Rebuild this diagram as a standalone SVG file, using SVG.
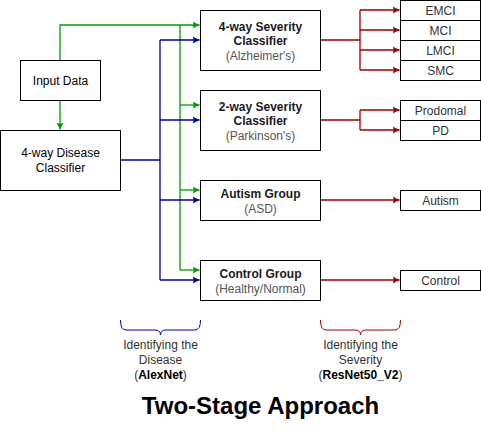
<svg xmlns="http://www.w3.org/2000/svg" width="481" height="436" viewBox="0 0 481 436">
<style>
.box{fill:#fff;stroke:#000;stroke-width:1}
text{font-family:"Liberation Sans",Arial,sans-serif;font-size:12px;text-anchor:middle}
.t{fill:#000}
.b{font-weight:bold;fill:#1a1a1a}
.s{fill:#555}
.leaf{fill:#333}
.g{stroke:#009900;fill:none;stroke-width:1.3}
.bl{stroke:#000099;fill:none;stroke-width:1.3}
.r{stroke:#990000;fill:none;stroke-width:1.3}
.lab{fill:#333}
</style>
<defs>
<marker id="ag" markerWidth="8" markerHeight="8" refX="7" refY="4" orient="auto" markerUnits="userSpaceOnUse"><path d="M0,0.5 L7,4 L0,7.5 L1.5,4 Z" fill="#009900"/></marker>
<marker id="ab" markerWidth="8" markerHeight="8" refX="7" refY="4" orient="auto" markerUnits="userSpaceOnUse"><path d="M0,0.5 L7,4 L0,7.5 L1.5,4 Z" fill="#000099"/></marker>
<marker id="ar" markerWidth="8" markerHeight="8" refX="7" refY="4" orient="auto" markerUnits="userSpaceOnUse"><path d="M0,0.5 L7,4 L0,7.5 L1.5,4 Z" fill="#990000"/></marker>
</defs>
<g id="connectors">
<path class="g" d="M60,60 V25 H199.5" marker-end="url(#ag)"/>
<path class="g" d="M60,100 V129.5" marker-end="url(#ag)"/>
<path class="g" d="M180,25 V270"/>
<path class="g" d="M180,105 H199.5" marker-end="url(#ag)"/>
<path class="g" d="M180,190 H199.5" marker-end="url(#ag)"/>
<path class="g" d="M180,270 H199.5" marker-end="url(#ag)"/>
<path class="bl" d="M120,160 H160"/>
<path class="bl" d="M160,40 V280"/>
<path class="bl" d="M160,40 H199.5" marker-end="url(#ab)"/>
<path class="bl" d="M160,120 H199.5" marker-end="url(#ab)"/>
<path class="bl" d="M160,200 H199.5" marker-end="url(#ab)"/>
<path class="bl" d="M160,280 H199.5" marker-end="url(#ab)"/>
<path class="r" d="M320,40 H360 M360,10 V70"/>
<path class="r" d="M360,10 H399.5" marker-end="url(#ar)"/>
<path class="r" d="M360,30 H399.5" marker-end="url(#ar)"/>
<path class="r" d="M360,50 H399.5" marker-end="url(#ar)"/>
<path class="r" d="M360,70 H399.5" marker-end="url(#ar)"/>
<path class="r" d="M320,120 H360 M360,110 V130"/>
<path class="r" d="M360,110 H399.5" marker-end="url(#ar)"/>
<path class="r" d="M360,130 H399.5" marker-end="url(#ar)"/>
<path class="r" d="M320,200 H399.5" marker-end="url(#ar)"/>
<path class="r" d="M320,280 H399.5" marker-end="url(#ar)"/>
</g>
<g id="input-data"><rect class="box" x="20.5" y="60.5" width="80" height="40"/><text class="t" x="60.5" y="84.5">Input Data</text></g>
<g id="disease-classifier"><rect class="box" x="0.5" y="130.5" width="120" height="60"/><text class="t" x="60.5" y="157">4-way Disease</text><text class="t" x="60.5" y="171.5">Classifier</text></g>
<g id="severity-alz"><rect class="box" x="200.5" y="10.5" width="120" height="60"/><text class="b" x="260.5" y="30.5">4-way Severity</text><text class="b" x="260.5" y="44.5">Classifier</text><text class="s" x="260.5" y="59.5">(Alzheimer's)</text></g>
<g id="severity-pk"><rect class="box" x="200.5" y="90.5" width="120" height="60"/><text class="b" x="260.5" y="110.5">2-way Severity</text><text class="b" x="260.5" y="124.5">Classifier</text><text class="s" x="260.5" y="139.5">(Parkinson's)</text></g>
<g id="autism-group"><rect class="box" x="200.5" y="180.5" width="120" height="40"/><text class="b" x="260.5" y="197.5">Autism Group</text><text class="s" x="260.5" y="212.5">(ASD)</text></g>
<g id="control-group"><rect class="box" x="200.5" y="260.5" width="120" height="40"/><text class="b" x="260.5" y="277.5">Control Group</text><text class="s" x="260.5" y="292.5">(Healthy/Normal)</text></g>
<g id="emci"><rect class="box" x="400.5" y="0.5" width="80" height="20"/><text class="leaf" x="440.5" y="14.5">EMCI</text></g>
<g id="mci"><rect class="box" x="400.5" y="20.5" width="80" height="20"/><text class="leaf" x="440.5" y="34.5">MCI</text></g>
<g id="lmci"><rect class="box" x="400.5" y="40.5" width="80" height="20"/><text class="leaf" x="440.5" y="54.5">LMCI</text></g>
<g id="smc"><rect class="box" x="400.5" y="60.5" width="80" height="20"/><text class="leaf" x="440.5" y="74.5">SMC</text></g>
<g id="prodomal"><rect class="box" x="400.5" y="100.5" width="80" height="20"/><text class="leaf" x="440.5" y="114.5">Prodomal</text></g>
<g id="pd"><rect class="box" x="400.5" y="120.5" width="80" height="20"/><text class="leaf" x="440.5" y="134.5">PD</text></g>
<g id="autism"><rect class="box" x="400.5" y="190.5" width="80" height="20"/><text class="leaf" x="440.5" y="204.5">Autism</text></g>
<g id="control"><rect class="box" x="400.5" y="270.5" width="80" height="20"/><text class="leaf" x="440.5" y="284.5">Control</text></g>
<g id="brace-disease">
<path d="M120.5,320 Q120.5,330 126,330 L155,330 Q160.5,330 160.5,335 Q160.5,330 166,330 L195,330 Q200.5,330 200.5,320" fill="none" stroke="#000099" stroke-width="1"/>
<text class="lab" x="160.5" y="349">Identifying the</text><text class="lab" x="160.5" y="364">Disease</text><text class="lab" x="160.5" y="379">(<tspan font-weight="bold" fill="#000">AlexNet</tspan>)</text>
</g>
<g id="brace-severity">
<path d="M320.5,320 Q320.5,330 326,330 L355,330 Q360.5,330 360.5,335 Q360.5,330 366,330 L395,330 Q400.5,330 400.5,320" fill="none" stroke="#990000" stroke-width="1"/>
<text class="lab" x="360.5" y="349">Identifying the</text><text class="lab" x="360.5" y="364">Severity</text><text class="lab" x="360.5" y="379">(<tspan font-weight="bold" fill="#000">ResNet50_V2</tspan>)</text>
</g>
<g id="title"><text x="260.5" y="414" style="font-size:24px;font-weight:bold" fill="#000">Two-Stage Approach</text></g>
</svg>
